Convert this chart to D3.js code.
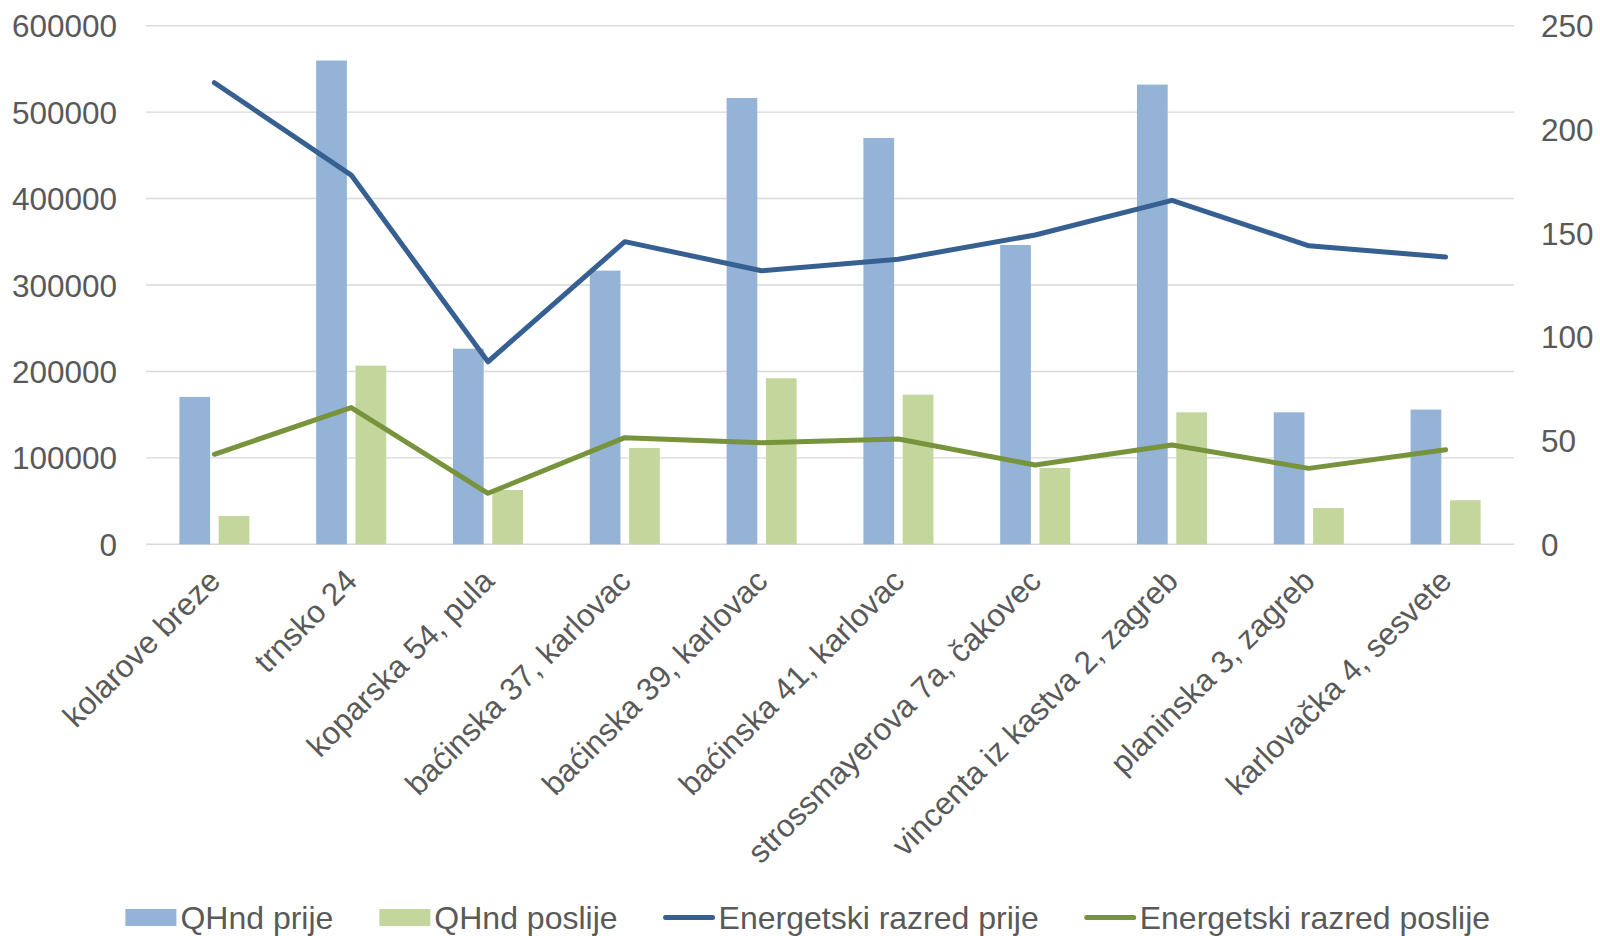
<!DOCTYPE html>
<html>
<head>
<meta charset="utf-8">
<script src="https://cdn.jsdelivr.net/npm/d3@7"></script>
<style>
  html, body { margin: 0; padding: 0; background: #ffffff; }
  svg { display: block; }
  text { font-family: "Liberation Sans", Arial, sans-serif; fill: #595959; }
</style>
</head>
<body>
<svg id="chart" width="1600" height="936"></svg>
<script>
const categories = [
  "kolarove breze", "trnsko 24", "koparska 54, pula", "baćinska 37, karlovac",
  "baćinska 39, karlovac", "baćinska 41, karlovac", "strossmayerova 7a, čakovec",
  "vincenta iz kastva 2, zagreb", "planinska 3, zagreb", "karlovačka 4, sesvete"
];
const qhndPrije   = [170500, 559700, 226300, 316600, 516400, 470100, 346300, 531800, 152700, 155900];
const qhndPoslije = [32800, 206700, 62800, 111400, 192100, 173100, 88300, 152700, 42000, 51000];
const razredPrije   = [222.5, 178, 88, 145.9, 131.9, 137.4, 149.1, 165.8, 143.9, 138.5];
const razredPoslije = [43.4, 65.9, 24.6, 51.4, 49.0, 50.8, 38.2, 47.9, 36.6, 45.6];
const leftTicks  = [0, 100000, 200000, 300000, 400000, 500000, 600000];
const rightTicks = [0, 50, 100, 150, 200, 250];
const seriesNames = ["QHnd prije", "QHnd poslije", "Energetski razred prije", "Energetski razred poslije"];

const colors = {
  barPrije: "#95B3D7",
  barPoslije: "#C3D69B",
  linePrije: "#376092",
  linePoslije: "#77933C",
  grid: "#D9D9D9"
};

const svg = d3.select("#chart");
const plot = { left: 146, right: 1514, top: 25.7, bottom: 544.3 };

const x0 = d3.scaleBand().domain(categories).range([plot.left, plot.right]).paddingInner(0).paddingOuter(0);
const groupW = x0.bandwidth() * 0.512;
const x1 = d3.scaleBand().domain(["prije", "poslije"]).range([0, groupW]).paddingInner(0.219).paddingOuter(0);
const yL = d3.scaleLinear().domain([0, 600000]).range([plot.bottom, plot.top]);
const yR = d3.scaleLinear().domain([0, 250]).range([plot.bottom, plot.top]);

// gridlines
svg.append("g").selectAll("line").data(leftTicks).join("line")
  .attr("x1", plot.left).attr("x2", plot.right)
  .attr("y1", d => yL(d)).attr("y2", d => yL(d))
  .attr("stroke", colors.grid).attr("stroke-width", 1.4);

// left axis
const leftAxis = d3.axisLeft(yL).tickValues(leftTicks).tickSize(0).tickPadding(0).tickFormat(d3.format("d"));
const gL = svg.append("g").attr("transform", `translate(117,0)`).call(leftAxis);
gL.select(".domain").remove();
gL.selectAll("text").style("font-size", "31.5px").attr("fill", "#595959").attr("dy", "0.35em");

// right axis
const rightAxis = d3.axisRight(yR).tickValues(rightTicks).tickSize(0).tickPadding(0);
const gR = svg.append("g").attr("transform", `translate(1541,0)`).call(rightAxis);
gR.select(".domain").remove();
gR.selectAll("text").style("font-size", "31.5px").attr("fill", "#595959").attr("dy", "0.35em");

// bars
const groups = svg.append("g").selectAll("g").data(categories).join("g")
  .attr("transform", d => `translate(${x0(d) + (x0.bandwidth() - groupW) / 2},0)`);
groups.append("rect")
  .attr("x", x1("prije")).attr("width", x1.bandwidth())
  .attr("y", (d, i) => yL(qhndPrije[i])).attr("height", (d, i) => yL(0) - yL(qhndPrije[i]))
  .attr("fill", colors.barPrije);
groups.append("rect")
  .attr("x", x1("poslije")).attr("width", x1.bandwidth())
  .attr("y", (d, i) => yL(qhndPoslije[i])).attr("height", (d, i) => yL(0) - yL(qhndPoslije[i]))
  .attr("fill", colors.barPoslije);

// lines
const cx = c => x0(c) + x0.bandwidth() / 2;
const lineGen = vals => d3.line().x((d, i) => cx(categories[i])).y(d => yR(d))(vals);
svg.append("path").attr("d", lineGen(razredPrije)).attr("fill", "none")
  .attr("stroke", colors.linePrije).attr("stroke-width", 5).attr("stroke-linejoin", "round").attr("stroke-linecap", "round");
svg.append("path").attr("d", lineGen(razredPoslije)).attr("fill", "none")
  .attr("stroke", colors.linePoslije).attr("stroke-width", 5).attr("stroke-linejoin", "round").attr("stroke-linecap", "round");

// category labels
svg.append("g").selectAll("text").data(categories).join("text")
  .attr("transform", d => `translate(${cx(d) + 0},${575}) rotate(-45)`)
  .attr("text-anchor", "end")
  .attr("dy", "0.35em")
  .style("font-size", "31.5px")
  .text(d => d);

// legend
const legendItems = [
  { name: seriesNames[0], type: "rect", color: colors.barPrije },
  { name: seriesNames[1], type: "rect", color: colors.barPoslije },
  { name: seriesNames[2], type: "line", color: colors.linePrije },
  { name: seriesNames[3], type: "line", color: colors.linePoslije }
];
const legend = svg.append("g");
const swW = 51, swGap = 4, itemGap = 46, legY = 917.5;
let cursor = 0;
legendItems.forEach(it => {
  const g = legend.append("g").attr("transform", `translate(${cursor},0)`);
  if (it.type === "rect") {
    g.append("rect").attr("x", 0).attr("y", legY - 8.5).attr("width", swW).attr("height", 17).attr("fill", it.color);
  } else {
    g.append("line").attr("x1", 2).attr("x2", swW - 2).attr("y1", legY).attr("y2", legY)
      .attr("stroke", it.color).attr("stroke-width", 5).attr("stroke-linecap", "round");
  }
  const t = g.append("text").attr("x", swW + swGap).attr("y", legY).attr("dy", "0.35em")
    .style("font-size", "32px").text(it.name);
  cursor += swW + swGap + t.node().getComputedTextLength() + itemGap;
});
const totalW = cursor - itemGap;
legend.attr("transform", `translate(${807.75 - totalW / 2},0)`);
</script>
</body>
</html>
